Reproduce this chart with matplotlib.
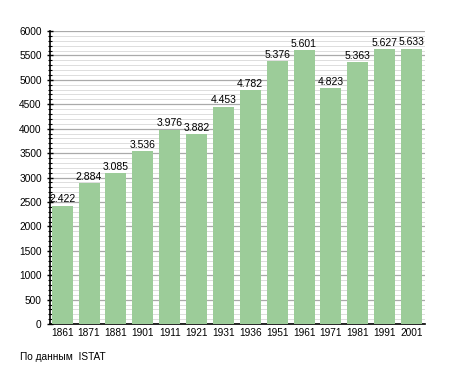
import matplotlib
matplotlib.use("Agg")
import matplotlib.pyplot as plt
from matplotlib.ticker import MultipleLocator

years = ["1861", "1871", "1881", "1901", "1911", "1921", "1931", "1936",
         "1951", "1961", "1971", "1981", "1991", "2001"]
population = [2422, 2884, 3085, 3536, 3976, 3882, 4453, 4782,
              5376, 5601, 4823, 5363, 5627, 5633]
labels = ["2.422", "2.884", "3.085", "3.536", "3.976", "3.882", "4.453", "4.782",
          "5.376", "5.601", "4.823", "5.363", "5.627", "5.633"]


def main():
    plt.rcParams['font.family'] = ['Liberation Sans', 'DejaVu Sans']
    fig = plt.figure(figsize=(4.55, 3.73), dpi=100)
    ax = fig.add_axes([0.110, 0.131, 0.824, 0.786])

    x = list(range(len(years)))
    ax.bar(x, population, width=0.78, color='#9ccc99', zorder=3)

    for xi, v, lab in zip(x, population, labels):
        ax.text(xi, v + 30, lab, ha='center', va='bottom', fontsize=7.5, zorder=4)

    ax.set_xlim(-0.45, len(years) - 0.5)
    ax.set_ylim(0, 6000)
    ax.set_xticks(x)
    ax.set_xticklabels(years, fontsize=7.3)
    ax.yaxis.set_major_locator(MultipleLocator(500))
    ax.yaxis.set_minor_locator(MultipleLocator(100))
    ax.tick_params(axis='y', labelsize=7.3, direction='inout', length=5, width=1)
    ax.tick_params(axis='y', which='minor', direction='inout', length=3, width=0.8)
    ax.tick_params(axis='x', length=0, pad=3)

    ax.grid(axis='y', which='major', color='#aaaaaa', linewidth=0.9, zorder=0)
    ax.grid(axis='y', which='minor', color='#dddddd', linewidth=0.7, zorder=0)

    for s in ['top', 'right']:
        ax.spines[s].set_visible(False)
    ax.spines['left'].set_linewidth(1.2)
    ax.spines['bottom'].set_linewidth(1.2)

    fig.text(0.044, 0.03, "По данным  ISTAT", fontsize=7.3, ha='left', va='bottom')

    fig.savefig("out.png", dpi=100)


if __name__ == '__main__':
    main()
